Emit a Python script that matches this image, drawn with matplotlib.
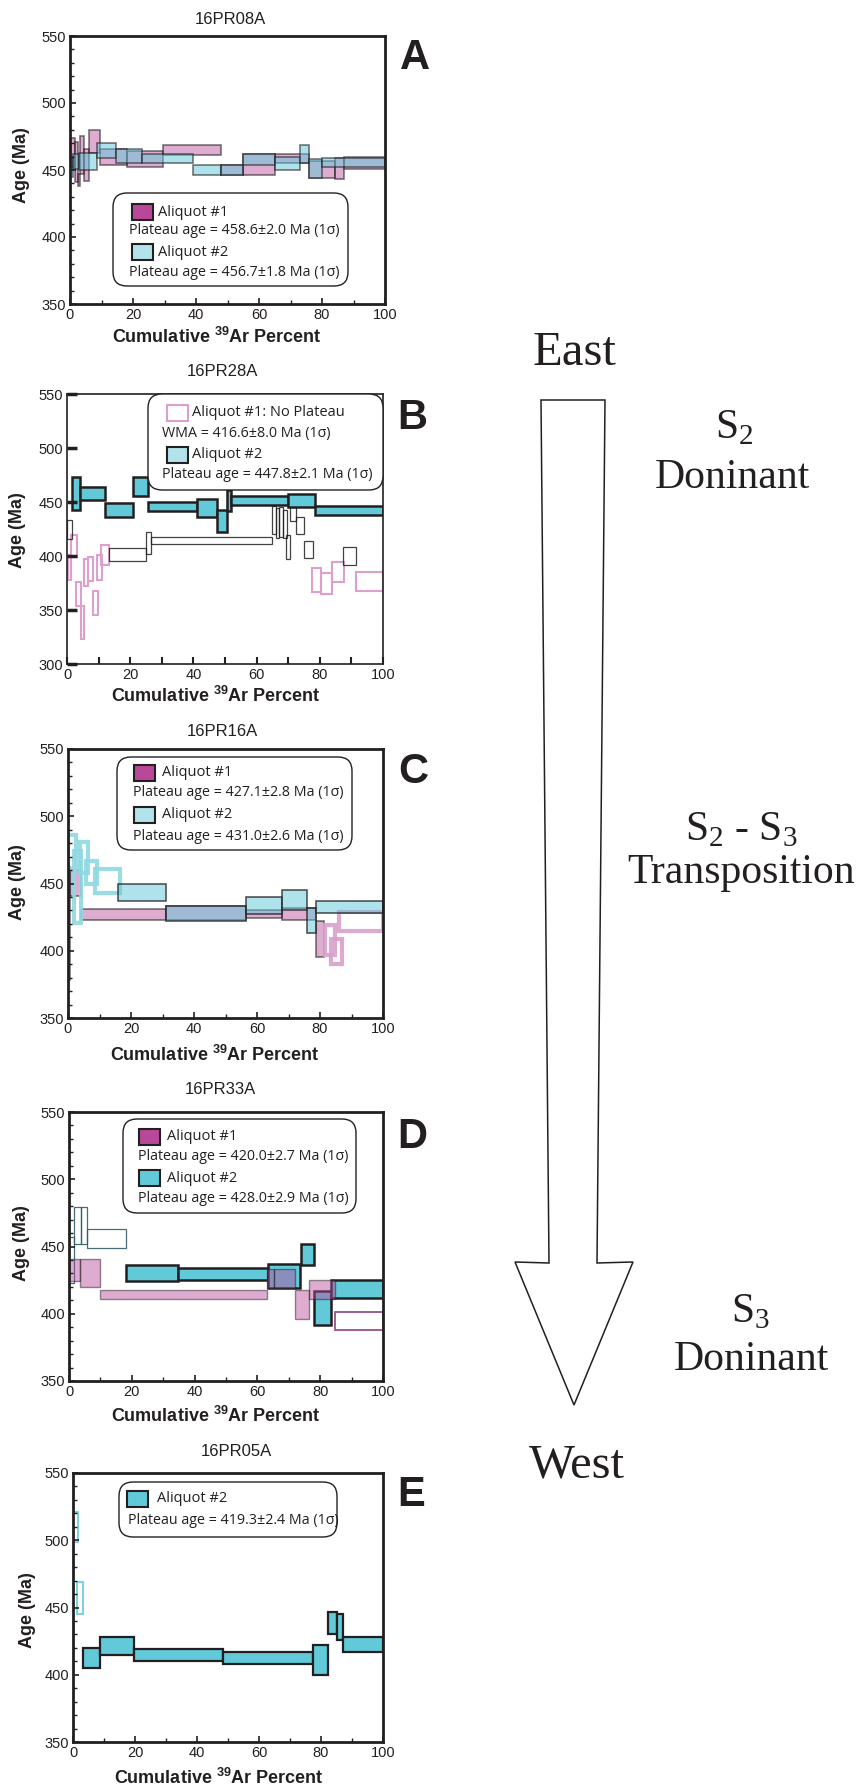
import matplotlib
matplotlib.use('Agg')
import matplotlib.pyplot as plt
from matplotlib.colors import to_rgba
from matplotlib.patches import Rectangle, FancyBboxPatch, Polygon
from matplotlib.ticker import MultipleLocator

plt.rcParams['font.family'] = ['Liberation Sans', 'DejaVu Sans']
plt.rcParams['mathtext.fontset'] = 'custom'
plt.rcParams['mathtext.rm'] = 'Liberation Serif'
plt.rcParams['mathtext.bf'] = 'Liberation Sans:bold'

W, H = 859, 1787
INK = '#231F20'
PINK = '#B9479A'
LBLUE = '#5EC8DA'
CYAN = '#62C9D9'

# step data: (start %, end %, age low, age high)
a_al1 = [(0.0, 1.6, 452, 474), (1.6, 2.6, 441, 471), (2.6, 3.3, 438, 447),
         (3.3, 4.5, 447, 475), (4.5, 6.0, 442, 466), (6.0, 9.5, 463, 480),
         (9.5, 18.0, 454, 466), (18.0, 29.5, 452, 464), (29.5, 48.0, 461, 469),
         (48.0, 55.0, 446, 454), (55.0, 65.0, 446, 462), (65.0, 76.0, 455, 462),
         (76.0, 84.0, 444, 457), (84.0, 87.0, 443, 459), (87.0, 100.0, 451, 460)]
a_al2 = [(0.0, 1.0, 445, 460), (1.0, 3.0, 451, 462), (3.0, 8.5, 450, 463),
         (8.5, 14.5, 459, 470), (14.5, 23.0, 455, 466), (23.0, 39.0, 455, 462),
         (39.0, 48.0, 446, 454), (48.0, 55.0, 446, 454), (55.0, 65.0, 454, 462),
         (65.0, 73.0, 450, 460), (73.0, 76.0, 455, 469), (76.0, 80.0, 444, 458),
         (80.0, 100.0, 452, 459)]

b_al1_pink = [(0.3, 1.4, 378, 401), (1.4, 3.1, 399, 419), (3.0, 4.4, 354, 376),
              (4.3, 5.5, 323, 354), (5.5, 6.8, 372, 397), (6.6, 8.2, 377, 399),
              (8.2, 9.7, 345, 368), (9.6, 11.0, 378, 401), (10.9, 13.2, 392, 410),
              (77.6, 80.4, 367, 389), (80.4, 84.0, 365, 384), (83.8, 87.7, 376, 394),
              (91.4, 100.0, 368, 385)]
b_al1_dark = [(0.0, 1.6, 416, 433), (13.2, 25.0, 395, 407), (25.0, 26.6, 402, 422),
              (26.6, 65.0, 411, 418), (65.0, 66.1, 420, 446), (66.1, 67.2, 417, 444),
              (67.2, 68.2, 418, 445), (68.2, 69.5, 417, 443), (69.4, 70.5, 397, 419),
              (70.5, 72.5, 432, 445), (72.5, 75.0, 420, 436), (75.0, 78.0, 398, 414),
              (87.4, 91.6, 392, 408)]
b_al2 = [(1.6, 4.0, 443, 473), (4.0, 12.0, 452, 464), (12.0, 21.0, 436, 449),
         (21.0, 25.5, 456, 473), (25.5, 41.0, 442, 450), (41.0, 47.5, 436, 453),
         (47.5, 50.5, 422, 443), (50.5, 52.0, 442, 461), (52.0, 70.0, 447, 456),
         (70.0, 78.5, 445, 457), (78.5, 100.0, 438, 446)]

c_al1_fill = [(0.0, 0.7, 378, 462), (0.7, 4.2, 441, 460), (4.2, 31.0, 423, 431),
              (31.0, 56.6, 423, 433), (56.6, 68.0, 424, 430), (68.0, 78.6, 423, 432),
              (78.8, 81.2, 395, 422)]
c_al1_out = [(81.5, 84.7, 397, 419), (83.6, 87.0, 390, 409), (86.0, 100.0, 415, 429)]
c_al2_out = [(0.0, 2.6, 461, 486), (2.0, 4.2, 421, 474), (3.7, 6.3, 458, 481),
             (5.8, 9.2, 450, 467), (8.5, 16.4, 443, 461)]
c_al2_fill = [(15.9, 31.0, 437, 450), (31.0, 56.6, 422, 433), (56.6, 68.0, 427, 440),
              (68.0, 75.9, 430, 445), (75.9, 78.6, 413, 432), (78.6, 100.0, 428, 437)]

d_al1_fill = [(0.0, 3.5, 424, 441), (3.5, 9.9, 420, 441), (9.9, 63.2, 411, 418),
              (63.2, 65.4, 419, 433), (65.4, 72.0, 419, 433), (72.0, 76.3, 396, 418),
              (76.3, 84.8, 411, 425)]
d_al1_out = [(84.8, 100.0, 388, 401)]
d_al2_out = [(0.0, 1.6, 423, 457), (1.6, 3.8, 452, 479), (3.8, 5.8, 452, 479),
             (5.8, 18.2, 449, 463)]
d_al2_fill = [(18.2, 34.6, 424, 436), (34.6, 63.5, 425, 434), (63.5, 73.6, 419, 437),
              (73.8, 78.0, 436, 452), (78.0, 83.4, 392, 417), (83.4, 100.0, 412, 425)]

e_al2_out = [(0.0, 1.6, 499, 521), (1.3, 3.2, 445, 469)]
e_al2_fill = [(3.2, 8.8, 405, 420), (8.8, 19.8, 415, 428), (19.8, 48.5, 410, 419),
              (48.5, 77.3, 408, 417), (77.3, 82.3, 400, 422), (82.3, 85.0, 430, 447),
              (85.0, 87.1, 426, 445), (87.1, 100.0, 417, 428)]

samples = ['16PR08A', '16PR28A', '16PR16A', '16PR33A', '16PR05A']
letters = ['A', 'B', 'C', 'D', 'E']
legend_lines = [
    ['Aliquot #1', 'Plateau age = 458.6\u00b12.0 Ma (1\u03c3)',
     'Aliquot #2', 'Plateau age = 456.7\u00b11.8 Ma (1\u03c3)'],
    ['Aliquot #1: No Plateau', 'WMA = 416.6\u00b18.0 Ma (1\u03c3)',
     'Aliquot #2', 'Plateau age = 447.8\u00b12.1 Ma (1\u03c3)'],
    ['Aliquot #1', 'Plateau age = 427.1\u00b12.8 Ma (1\u03c3)',
     'Aliquot #2', 'Plateau age = 431.0\u00b12.6 Ma (1\u03c3)'],
    ['Aliquot #1', 'Plateau age = 420.0\u00b12.7 Ma (1\u03c3)',
     'Aliquot #2', 'Plateau age = 428.0\u00b12.9 Ma (1\u03c3)'],
    ['Aliquot #2', 'Plateau age = 419.3\u00b12.4 Ma (1\u03c3)'],
]


# draws a list of steps as bars
def steps(ax, data, fc, fa, ec, ea, lw):
    x0 = [d[0] for d in data]
    w = [d[1] - d[0] for d in data]
    lo = [d[2] for d in data]
    h = [d[3] - d[2] for d in data]
    ax.bar(x0, h, width=w, bottom=lo, align='edge', color=to_rgba(fc, fa),
           edgecolor=to_rgba(ec, ea), linewidth=lw)


def setup(ax, ymin, spine_w, minor_y=True):
    ax.set_xlim(0, 100)
    ax.set_ylim(ymin, 550)
    ax.xaxis.set_major_locator(MultipleLocator(20))
    ax.xaxis.set_minor_locator(MultipleLocator(10))
    ax.yaxis.set_major_locator(MultipleLocator(50))
    if minor_y:
        ax.yaxis.set_minor_locator(MultipleLocator(10))
    ax.tick_params(which='both', direction='in', top=False, right=False,
                   labelsize=10.5, labelcolor=INK, color=INK, pad=3)
    ax.tick_params(which='major', length=4, width=1.2)
    ax.tick_params(which='minor', length=3, width=1)
    for sp in ax.spines.values():
        sp.set_linewidth(spine_w)
        sp.set_color(INK)


fig = plt.figure(figsize=(W / 100, H / 100), dpi=100)

# axes boxes in pixels: left, top, right, bottom
boxes = [(70, 36, 385, 304), (67, 394, 383, 664), (68, 749, 383, 1018),
         (69, 1112, 383, 1381), (73, 1473, 383, 1742)]
axs = []
for (l, t, r, b) in boxes:
    axs.append(fig.add_axes([l / W, 1 - b / H, (r - l) / W, (b - t) / H]))

# A
ax = axs[0]
setup(ax, 350, 2)
steps(ax, a_al1, PINK, 0.45, INK, 0.6, 1.2)
steps(ax, a_al2, LBLUE, 0.5, INK, 0.6, 1.2)

# B
ax = axs[1]
setup(ax, 300, 1.2, minor_y=False)
ax.tick_params(axis='y', which='major', length=7, width=2.5)
ax.tick_params(axis='x', which='both', length=5, width=1.5)
steps(ax, b_al1_pink, 'white', 0.0, '#DDA0CC', 1, 1.5)
steps(ax, b_al1_dark, 'white', 0.0, INK, 0.85, 0.9)
steps(ax, b_al2, CYAN, 1, INK, 1, 1.8)

# C
ax = axs[2]
setup(ax, 350, 2)
steps(ax, c_al1_fill, PINK, 0.45, INK, 0.6, 1.2)
steps(ax, c_al1_out, 'white', 0.0, '#D9A0CC', 0.9, 3)
steps(ax, c_al2_out, 'white', 0.0, '#8FD9E2', 0.9, 3)
steps(ax, c_al2_fill, LBLUE, 0.5, INK, 0.75, 1.2)

# D
ax = axs[3]
setup(ax, 350, 2)
steps(ax, d_al2_out, 'white', 0.0, '#2F5F68', 0.9, 0.9)
steps(ax, d_al2_fill, CYAN, 1, INK, 1, 1.8)
steps(ax, d_al1_fill, PINK, 0.45, INK, 0.5, 1.0)
steps(ax, d_al1_out, 'white', 0.0, '#8A3F7A', 0.9, 1.3)

# E
ax = axs[4]
setup(ax, 350, 2)
steps(ax, e_al2_out, 'white', 0.0, '#7FD3E0', 1, 1.5)
steps(ax, e_al2_fill, CYAN, 1, INK, 1, 1.6)

# overlay in pixel coordinates for titles, legends and the arrow
ov = fig.add_axes([0, 0, 1, 1], zorder=10)
ov.set_xlim(0, W)
ov.set_ylim(H, 0)
ov.axis('off')
ov.patch.set_alpha(0)

title_pos = [(230, 20), (222, 372), (222, 732), (220, 1090), (236, 1452)]
letter_pos = [(415, 58), (412, 418), (413, 772), (412, 1137), (411, 1495)]
ylab_pos = [(22, 165), (18, 530), (18, 882), (21, 1243), (27, 1610)]
xlab_pos = [(217, 337), (216, 696), (215, 1055), (216, 1416), (219, 1778)]
for i in range(5):
    ov.text(title_pos[i][0], title_pos[i][1], samples[i], ha='center', va='center',
            fontsize=12, color=INK)
    ov.text(letter_pos[i][0], letter_pos[i][1], letters[i], ha='center', va='center',
            fontsize=30, fontweight='bold', color=INK)
    ov.text(ylab_pos[i][0], ylab_pos[i][1], 'Age (Ma)', ha='center', va='center',
            rotation=90, fontsize=13, fontweight='bold', color=INK)
    ov.text(xlab_pos[i][0], xlab_pos[i][1], r'Cumulative $^{\mathbf{39}}$Ar Percent',
            ha='center', va='center', fontsize=13, fontweight='bold', color=INK)

# legend boxes: box, swatch x, label x, text x, rows y, swatch styles
leg_box = [(113, 193, 348, 286), (148, 394, 383, 490), (117, 757, 352, 850),
           (123, 1119, 356, 1213), (119, 1482, 337, 1537)]
sw_x = [132, 167, 134, 139, 127]
lab_x = [158, 192, 162, 167, 157]
txt_x = [129, 162, 133, 138, 128]
rows_y = [(212, 231, 252, 272), (413, 433, 455, 475), (773, 793, 815, 837),
          (1137, 1157, 1178, 1198), (1499, 1521)]
sw_style = [
    [('#B9479A', INK), ('#B2E3EA', INK)],
    [('white', '#DDA0CC'), ('#B2E3EA', INK)],
    [('#B9479A', INK), ('#B2E3EA', INK)],
    [('#B9479A', INK), (CYAN, INK)],
    [(CYAN, INK)],
]
LEGFONT = ['Open Sans', 'DejaVu Sans']
for i in range(5):
    l, t, r, b = leg_box[i]
    ov.add_patch(FancyBboxPatch((l, t), r - l, b - t,
                                boxstyle='round,pad=0,rounding_size=14',
                                fc='white', ec=INK, lw=1))
    lines = legend_lines[i]
    for k in range(0, len(lines), 2):
        ys = rows_y[i][k]
        fc, ec = sw_style[i][k // 2]
        ov.add_patch(Rectangle((sw_x[i], ys - 8), 21, 16, fc=fc, ec=ec, lw=1.5))
        ov.text(lab_x[i], ys, lines[k], ha='left', va='center', fontsize=10.5,
                color=INK, family=LEGFONT)
        ov.text(txt_x[i], rows_y[i][k + 1], lines[k + 1], ha='left', va='center',
                fontsize=10.3, color=INK, family=LEGFONT)

# east-west arrow
arrow = [(541, 400), (605, 400), (597, 1263), (633, 1262), (574, 1405),
         (515, 1262), (549, 1263)]
ov.add_patch(Polygon(arrow, closed=True, fc='white', ec=INK, lw=1.1))

SERIF = ['Liberation Serif', 'DejaVu Serif']
ov.text(574, 365, 'East', ha='center', va='baseline', fontsize=35, family=SERIF, color=INK)
ov.text(577, 1478, 'West', ha='center', va='baseline', fontsize=35, family=SERIF, color=INK)
ov.text(734, 438, r'S$_2$', ha='center', va='baseline', fontsize=30, family=SERIF, color=INK)
ov.text(732, 488, 'Doninant', ha='center', va='baseline', fontsize=30, family=SERIF, color=INK)
ov.text(741, 840, r'S$_2$ - S$_3$', ha='center', va='baseline', fontsize=30, family=SERIF, color=INK)
ov.text(741, 883, 'Transposition', ha='center', va='baseline', fontsize=30, family=SERIF, color=INK)
ov.text(750, 1322, r'S$_3$', ha='center', va='baseline', fontsize=30, family=SERIF, color=INK)
ov.text(751, 1370, 'Doninant', ha='center', va='baseline', fontsize=30, family=SERIF, color=INK)

fig.savefig('out.png', dpi=100)
